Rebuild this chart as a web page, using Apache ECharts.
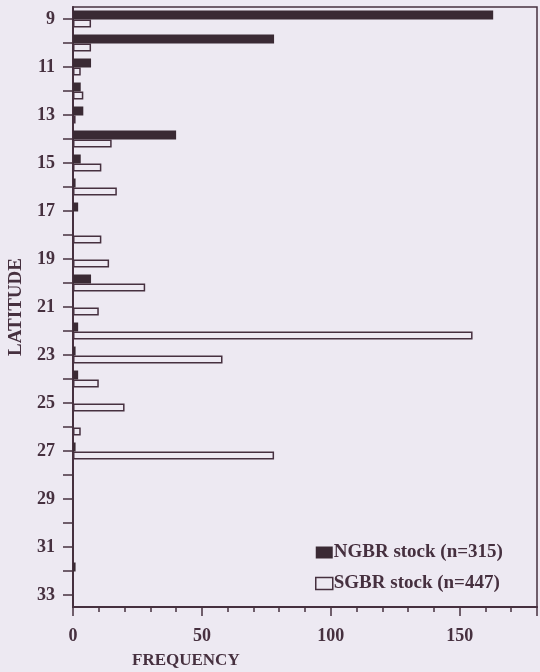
<!DOCTYPE html>
<html>
<head>
<meta charset="utf-8">
<script src="https://cdn.jsdelivr.net/npm/echarts@6/dist/echarts.min.js"></script>
<style>
html,body{margin:0;padding:0;background:#ede9f2;}
#c{width:540px;height:672px;}
</style>
</head>
<body>
<div id="c"></div>
<script>
// Latitude categories (degrees S)
var latitudes = ['9','10','11','12','13','14','15','16','17','18','19','20','21','22','23','24','25','26','27','28','29','30','31','32','33'];
// Frequency per latitude band
var ngbrValues = [163,78,7,3,4,40,3,1,2,0,0,7,0,2,1,2,0,0,1,0,0,0,0,1,0];
var sgbrValues = [7,7,3,4,1,15,11,17,0,11,14,28,10,155,58,10,20,3,78,0,0,0,0,0,0];
var seriesNames = ['NGBR stock (n=315)', 'SGBR stock (n=447)'];
var xMajorLabels = [0,50,100,150];

var ink = '#46303f';
var darkBar = '#3a2a34';
var bg = '#ede9f2';
var serif = '"Liberation Serif", "DejaVu Serif", serif';

var chart = echarts.init(document.getElementById('c'), null, {renderer:'canvas'});
chart.setOption({
  backgroundColor: bg,
  animation: false,
  textStyle: {fontFamily: serif, color: ink},
  title: {
    text: 'FREQUENCY',
    left: 127, top: 647,
    textStyle: {fontFamily: serif, fontSize: 17, fontWeight: 'bold', color: ink}
  },
  legend: {
    orient: 'vertical',
    left: 310, top: 538,
    itemWidth: 17, itemHeight: 12, itemGap: 12,
    icon: 'rect',
    textStyle: {fontFamily: serif, fontSize: 19, fontWeight: 'bold', color: ink, padding: [0,0,0,-4]},
    data: [
      {name: seriesNames[0], itemStyle: {color: darkBar, borderWidth: 0}},
      {name: seriesNames[1], itemStyle: {color: bg, borderColor: ink, borderWidth: 1.5}}
    ]
  },
  grid: {
    left: 73, right: 3, top: 7, bottom: 65,
    containLabel: false, outerBoundsMode: 'none',
    show: true, borderColor: ink, borderWidth: 1.5, backgroundColor: 'transparent'
  },
  xAxis: [
    {
      type: 'value', position: 'bottom', min: 0, max: 180, interval: 10,
      axisLine: {show: true, lineStyle: {color: ink, width: 2}},
      axisTick: {show: true, length: 5, lineStyle: {color: ink, width: 1.5}},
      axisLabel: {show: false},
      splitLine: {show: false}
    },
    {
      type: 'value', position: 'bottom', min: 0, max: 180, interval: 50,
      axisLine: {show: false},
      axisTick: {show: true, length: 9, lineStyle: {color: ink, width: 1.5}},
      axisLabel: {
        show: true, margin: 20, fontFamily: serif, fontSize: 18, fontWeight: 'bold', color: ink,
        formatter: function (v) { return xMajorLabels.indexOf(v) >= 0 ? String(v) : ''; }
      },
      splitLine: {show: false}
    }
  ],
  yAxis: {
    type: 'category', data: latitudes, inverse: true, boundaryGap: true,
    name: 'LATITUDE', nameLocation: 'middle', nameGap: 47, nameRotate: 90,
    nameTextStyle: {fontFamily: serif, fontSize: 19, fontWeight: 'bold', color: ink},
    axisLine: {show: true, lineStyle: {color: ink, width: 2}},
    axisTick: {show: true, alignWithLabel: true, interval: 0, length: 10, lineStyle: {color: ink, width: 1.5}},
    axisLabel: {interval: 1, margin: 18, fontFamily: serif, fontSize: 18, fontWeight: 'bold', color: ink}
  },
  series: [
    {
      name: seriesNames[0], type: 'bar', xAxisIndex: 0, data: ngbrValues,
      barWidth: 9, barGap: '0%',
      itemStyle: {color: darkBar}
    },
    {
      name: seriesNames[1], type: 'bar', xAxisIndex: 0, data: sgbrValues,
      barWidth: 8, barGap: '0%',
      itemStyle: {color: bg, borderColor: ink, borderWidth: 1.5}
    }
  ]
});
</script>
</body>
</html>
